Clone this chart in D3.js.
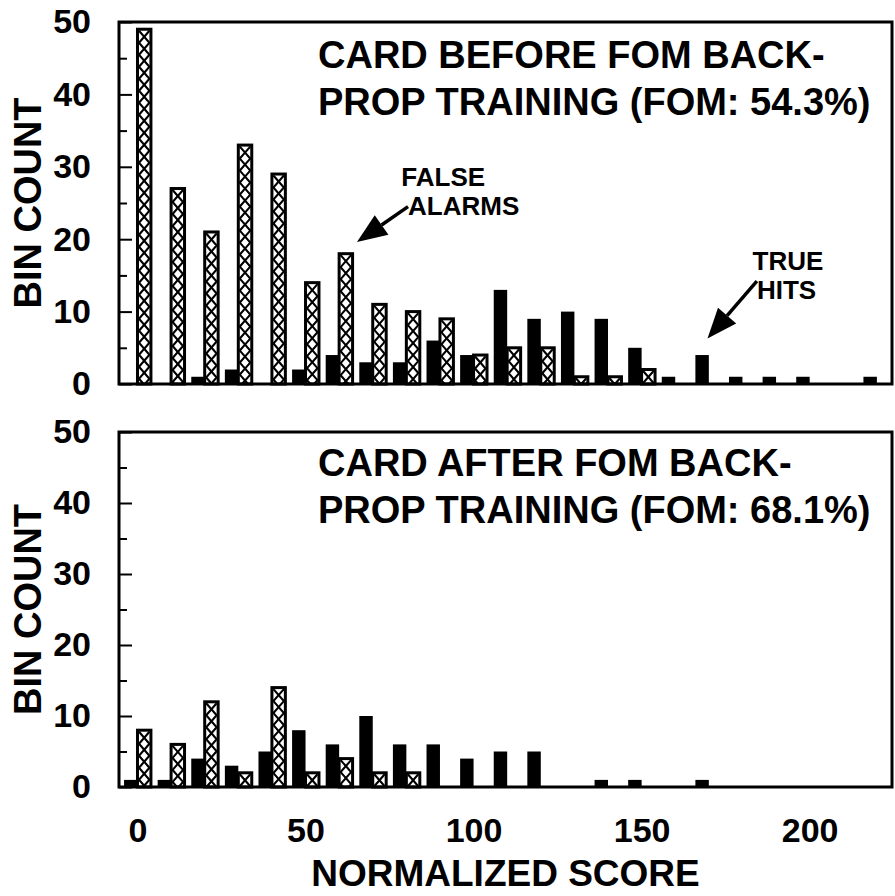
<!DOCTYPE html>
<html>
<head>
<meta charset="utf-8">
<script src="https://cdn.jsdelivr.net/npm/d3@7"></script>
<style>
  body { margin: 0; background: #fff; }
  svg text { font-family: "Liberation Sans", Arial, Helvetica, sans-serif; font-weight: bold; fill: #000; }
</style>
</head>
<body>
<div id="chart"></div>
<script>
// Score bins (left edge of each 10-point bin)
const bins = d3.range(0, 230, 10);

// Counts per bin
const beforeHits  = [0, 0, 1, 2, 0, 2, 4, 3, 3, 6, 4, 13, 9, 10, 9, 5, 1, 4, 1, 1, 1, 0, 1];
const beforeFalse = [49, 27, 21, 33, 29, 14, 18, 11, 10, 9, 4, 5, 5, 1, 1, 2, 0, 0, 0, 0, 0, 0, 0];
const afterHits   = [1, 1, 4, 3, 5, 8, 6, 10, 6, 6, 4, 5, 5, 0, 1, 1, 0, 1, 0, 0, 0, 0, 0];
const afterFalse  = [8, 6, 12, 2, 14, 2, 4, 2, 2, 0, 0, 0, 0, 0, 0, 0, 0, 0, 0, 0, 0, 0, 0];

const yMajor = [0, 10, 20, 30, 40, 50];
const yMinor = [5, 15, 25, 35, 45];
const xLabels = [0, 50, 100, 150, 200];

const titleBefore = ["CARD BEFORE FOM BACK-", "PROP TRAINING (FOM: 54.3%)"];
const titleAfter  = ["CARD AFTER FOM BACK-", "PROP TRAINING (FOM: 68.1%)"];

const width = 895, height = 896;
const barW = 4;         // bar width in score units
const hatchPeriod = 12; // px

const svg = d3.select("#chart")
  .append("svg")
  .attr("width", width)
  .attr("height", height);

const x = d3.scaleLinear().domain([-5.5, 224.5]).range([119, 892]);

// zigzag line inside a hatched bar, cut at the bar bottom
function zigzag(xL, xR, yTop, yBot, startLeft) {
  let pts = [];
  let yy = yTop, left = startLeft;
  pts.push([left ? xL : xR, yy]);
  while (yy < yBot - 0.01) {
    let yn = Math.min(yy + hatchPeriod, yBot);
    let t = (yn - yy) / hatchPeriod;
    let xs = left ? xL : xR, xe = left ? xR : xL;
    pts.push([xs + (xe - xs) * t, yn]);
    yy = yn;
    left = !left;
  }
  return d3.line()(pts);
}

const panels = [
  { hits: beforeHits, fa: beforeFalse, title: titleBefore, top: 22, bottom: 384, titleY: 68 },
  { hits: afterHits, fa: afterFalse, title: titleAfter, top: 432, bottom: 787, titleY: 476 }
];

panels.forEach((p, i) => {
  const y = d3.scaleLinear().domain([0, 50]).range([p.bottom, p.top]);
  const g = svg.append("g").attr("class", "panel-" + i);

  // True hits: solid bars left of the bin centre
  const hits = bins.map((b, k) => ({ b: b, v: p.hits[k] })).filter(d => d.v > 0);
  g.selectAll(".hit")
    .data(hits)
    .join("rect")
    .attr("class", "hit")
    .attr("x", d => x(d.b - barW))
    .attr("width", x(barW) - x(0))
    .attr("y", d => y(d.v))
    .attr("height", d => y(0) - y(d.v))
    .attr("fill", "#000");

  // False alarms: outlined, cross-hatched bars right of the bin centre
  const fa = bins.map((b, k) => ({ b: b, v: p.fa[k] })).filter(d => d.v > 0);
  const fg = g.selectAll(".fa")
    .data(fa)
    .join("g")
    .attr("class", "fa");
  fg.append("rect")
    .attr("x", d => x(d.b))
    .attr("width", x(barW) - x(0))
    .attr("y", d => y(d.v))
    .attr("height", d => y(0) - y(d.v))
    .attr("fill", "#fff")
    .attr("stroke", "#000")
    .attr("stroke-width", 3);
  [true, false].forEach(startLeft => {
    fg.append("path")
      .attr("d", d => zigzag(x(d.b) + 1.5, x(d.b + barW) - 1.5, y(d.v) + 1.5, y(0), startLeft))
      .attr("fill", "none")
      .attr("stroke", "#000")
      .attr("stroke-width", 2.1);
  });

  // Frame
  g.append("rect")
    .attr("x", x.range()[0])
    .attr("y", p.top)
    .attr("width", x.range()[1] - x.range()[0])
    .attr("height", p.bottom - p.top)
    .attr("fill", "none")
    .attr("stroke", "#000")
    .attr("stroke-width", 3);

  // Y axis ticks (inside) and labels
  const yAxis = g.append("g")
    .attr("transform", "translate(" + x.range()[0] + ",0)")
    .call(d3.axisLeft(y).tickValues(yMajor).tickSize(-13).tickPadding(28).tickFormat(d3.format("d")));
  yAxis.select(".domain").remove();
  yAxis.selectAll("line").attr("stroke-width", 2);
  yAxis.selectAll("text").attr("font-size", 34).attr("fill", "#000");

  const yMinorAxis = g.append("g")
    .attr("transform", "translate(" + x.range()[0] + ",0)")
    .call(d3.axisLeft(y).tickValues(yMinor).tickSize(-8).tickFormat(""));
  yMinorAxis.select(".domain").remove();
  yMinorAxis.selectAll("line").attr("stroke-width", 2);

  // Y axis title
  g.append("text")
    .attr("transform", "translate(41," + ((p.top + p.bottom) / 2) + ") rotate(-90)")
    .attr("text-anchor", "middle")
    .attr("font-size", 38)
    .text("BIN COUNT");

  // Panel title
  g.selectAll(".title")
    .data(p.title)
    .join("text")
    .attr("class", "title")
    .attr("x", 318)
    .attr("y", (d, k) => p.titleY + k * 47)
    .attr("font-size", 38)
    .text(d => d);

  p.y = y;
});

// X axis labels under the lower panel
const xAxis = svg.append("g")
  .attr("transform", "translate(0," + panels[1].bottom + ")")
  .call(d3.axisBottom(x).tickValues(xLabels).tickSize(0).tickPadding(31));
xAxis.select(".domain").remove();
xAxis.selectAll("text").attr("font-size", 34).attr("fill", "#000");

svg.append("text")
  .attr("x", (x.range()[0] + x.range()[1]) / 2)
  .attr("y", 886)
  .attr("text-anchor", "middle")
  .attr("font-size", 37)
  .text("NORMALIZED SCORE");

// Annotations in the upper panel (positions in data units)
const yTop = panels[0].y;
const notes = [
  { lines: ["FALSE", "ALARMS"], tx: [78.5, 80.5], ty: [27.3, 23.4], tail: [80.5, 24.5], tip: [65.3, 19.6] },
  { lines: ["TRUE", "HITS"], tx: [183, 184.3], ty: [15.8, 11.7], tail: [184.3, 14.2], tip: [169.6, 6.3] }
];

notes.forEach(n => {
  const ga = svg.append("g");
  n.lines.forEach((t, k) => {
    ga.append("text")
      .attr("x", x(n.tx[k]))
      .attr("y", yTop(n.ty[k]))
      .attr("font-size", 26)
      .text(t);
  });
  const x0 = x(n.tail[0]), y0 = yTop(n.tail[1]);
  const x1 = x(n.tip[0]), y1 = yTop(n.tip[1]);
  const ang = Math.atan2(y1 - y0, x1 - x0);
  const headLen = 30, headHalf = 12;
  const bx = x1 - headLen * Math.cos(ang), by = y1 - headLen * Math.sin(ang);
  ga.append("line")
    .attr("x1", x0).attr("y1", y0)
    .attr("x2", bx).attr("y2", by)
    .attr("stroke", "#000")
    .attr("stroke-width", 3.5);
  ga.append("path")
    .attr("d", d3.line()([
      [x1, y1],
      [bx + headHalf * Math.sin(ang), by - headHalf * Math.cos(ang)],
      [bx - headHalf * Math.sin(ang), by + headHalf * Math.cos(ang)]
    ]) + "Z")
    .attr("fill", "#000");
});
</script>
</body>
</html>
